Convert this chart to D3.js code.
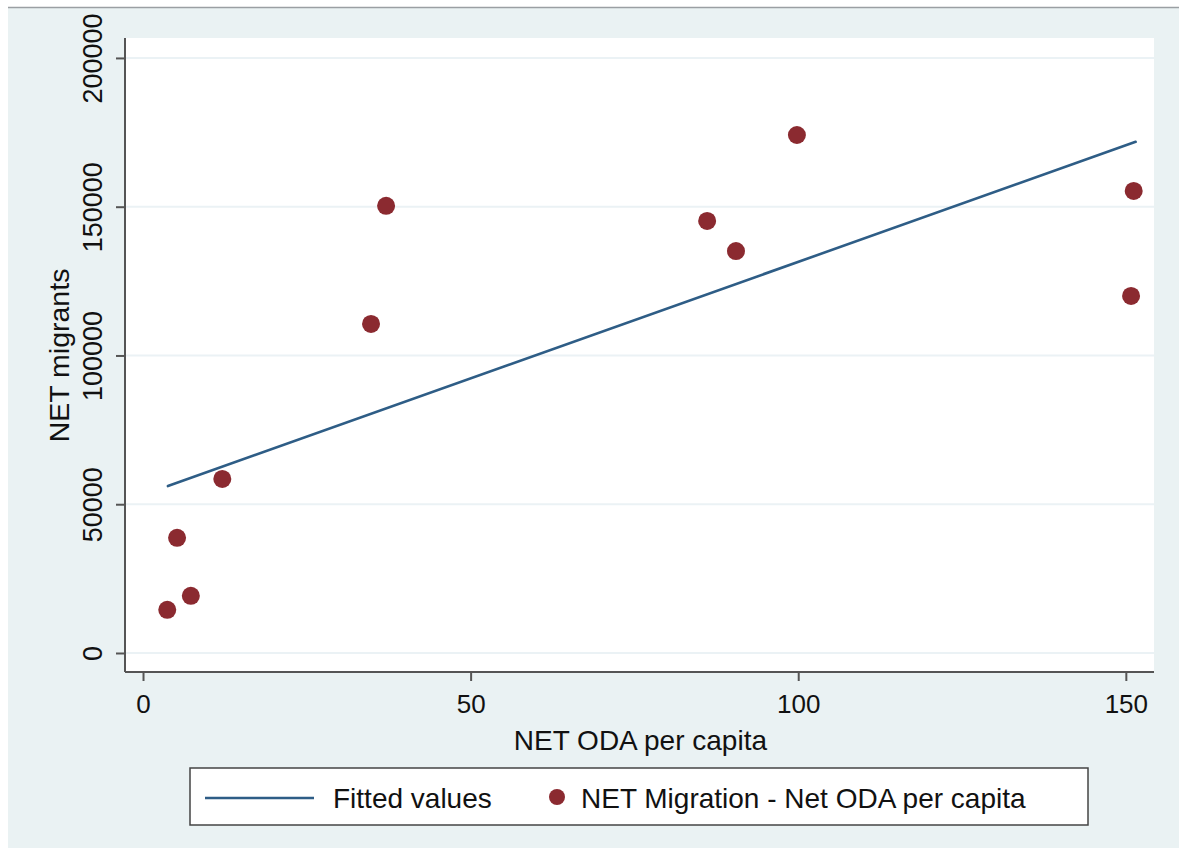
<!DOCTYPE html>
<html><head><meta charset="utf-8">
<script src="https://cdn.jsdelivr.net/npm/d3@7"></script>
<style>
html,body{margin:0;padding:0;background:#fff;}
svg{display:block;font-family:"Liberation Sans",Arial,Helvetica,sans-serif;}
</style></head>
<body>
<svg id="chart" width="1179" height="848"></svg>
<script>
// Data
const odaPerCapita = [3.7, 5.2, 7.3, 12.1, 34.8, 37.1, 86.1, 90.5, 99.8, 151.2, 150.8];
const netMigrants = [14500, 38700, 19200, 58500, 110600, 150300, 145200, 135100, 174100, 155300, 120000];
const fittedX = [3.8, 151.5];
const fittedY = [56100, 171800];
const xTicks = [0, 50, 100, 150];
const yTicks = [0, 50000, 100000, 150000, 200000];
const xTitle = "NET ODA per capita";
const yTitle = "NET migrants";
const legendLabels = ["Fitted values", "NET Migration - Net ODA per capita"];

const svg = d3.select("#chart");
const W = 1179, H = 848;
// outer frame
svg.append("rect").attr("x",0).attr("y",0).attr("width",W).attr("height",H).attr("fill","#ffffff");
svg.append("rect").attr("x",8).attr("y",7).attr("width",W-8).attr("height",H-7).attr("fill","#eaf2f3");
svg.append("line").attr("x1",8).attr("x2",W).attr("y1",7.5).attr("y2",7.5).attr("stroke","#9a9fa3").attr("stroke-width",1.5);

const plot = {left:125, top:38, right:1154, bottom:672};
const x = d3.scaleLinear().domain([-2.75, 154.3]).range([plot.left, plot.right]);
const y = d3.scaleLinear().domain([-6390, 206700]).range([plot.bottom, plot.top]);

svg.append("rect").attr("x",plot.left).attr("y",plot.top)
  .attr("width",plot.right-plot.left).attr("height",plot.bottom-plot.top).attr("fill","#ffffff");

// gridlines
svg.append("g").selectAll("line").data(yTicks).join("line")
  .attr("x1",plot.left).attr("x2",plot.right)
  .attr("y1",d=>y(d)).attr("y2",d=>y(d))
  .attr("stroke","#ebf2f5").attr("stroke-width",2);

// axes
const xAxis = d3.axisBottom(x).tickValues(xTicks).tickSize(9).tickPadding(14).tickFormat(d3.format("d"));
const gx = svg.append("g").attr("transform",`translate(0,${plot.bottom})`).call(xAxis);
gx.select(".domain").attr("stroke","#555").attr("stroke-width",2).attr("d",`M${plot.left},0H${plot.right}`);
gx.selectAll(".tick line").attr("stroke","#555").attr("stroke-width",2);
gx.selectAll(".tick text").attr("fill","#111").attr("font-size",26).attr("font-family","Liberation Sans, Arial, sans-serif");

const yAxis = d3.axisLeft(y).tickValues(yTicks).tickSize(9).tickFormat(d3.format("d"));
const gy = svg.append("g").attr("transform",`translate(${plot.left},0)`).call(yAxis);
gy.select(".domain").attr("stroke","#555").attr("stroke-width",2).attr("d",`M0,${plot.top}V${plot.bottom}`);
gy.selectAll(".tick line").attr("stroke","#555").attr("stroke-width",2);
gy.selectAll(".tick text").attr("fill","#111").attr("font-size",27)
  .attr("font-family","Liberation Sans, Arial, sans-serif")
  .attr("x",0).attr("dy",0)
  .attr("text-anchor","middle")
  .attr("transform","translate(-33,0) rotate(-90) translate(0,10)");

// titles
svg.append("text").attr("x",(x(0)+x(150))/2 + 6).attr("y",750).attr("text-anchor","middle")
  .attr("font-size",28).attr("fill","#111").text(xTitle);
svg.append("text").attr("transform",`translate(69,${(y(0)+y(200000))/2}) rotate(-90)`)
  .attr("text-anchor","middle").attr("font-size",28.5).attr("fill","#111").text(yTitle);

// fitted line
svg.append("line")
  .attr("x1",x(fittedX[0])).attr("y1",y(fittedY[0]))
  .attr("x2",x(fittedX[1])).attr("y2",y(fittedY[1]))
  .attr("stroke","#2e5d86").attr("stroke-width",2.6).attr("stroke-linecap","round");

// points
svg.append("g").selectAll("circle").data(odaPerCapita.map((v,i)=>[v,netMigrants[i]])).join("circle")
  .attr("cx",d=>x(d[0])).attr("cy",d=>y(d[1])).attr("r",9)
  .attr("fill","#8b2a30");

// legend
const lg = svg.append("g");
lg.append("rect").attr("x",190).attr("y",768).attr("width",898).attr("height",57)
  .attr("fill","#ffffff").attr("stroke","#444").attr("stroke-width",1.5);
lg.append("line").attr("x1",205).attr("x2",314).attr("y1",798).attr("y2",798)
  .attr("stroke","#2e5d86").attr("stroke-width",2.6);
lg.append("text").attr("x",333).attr("y",808).attr("font-size",28).attr("fill","#111").text(legendLabels[0]);
lg.append("circle").attr("cx",557).attr("cy",797).attr("r",8).attr("fill","#8b2a30");
lg.append("text").attr("x",581).attr("y",808).attr("font-size",28).attr("fill","#111").text(legendLabels[1]);
</script>
</body></html>
